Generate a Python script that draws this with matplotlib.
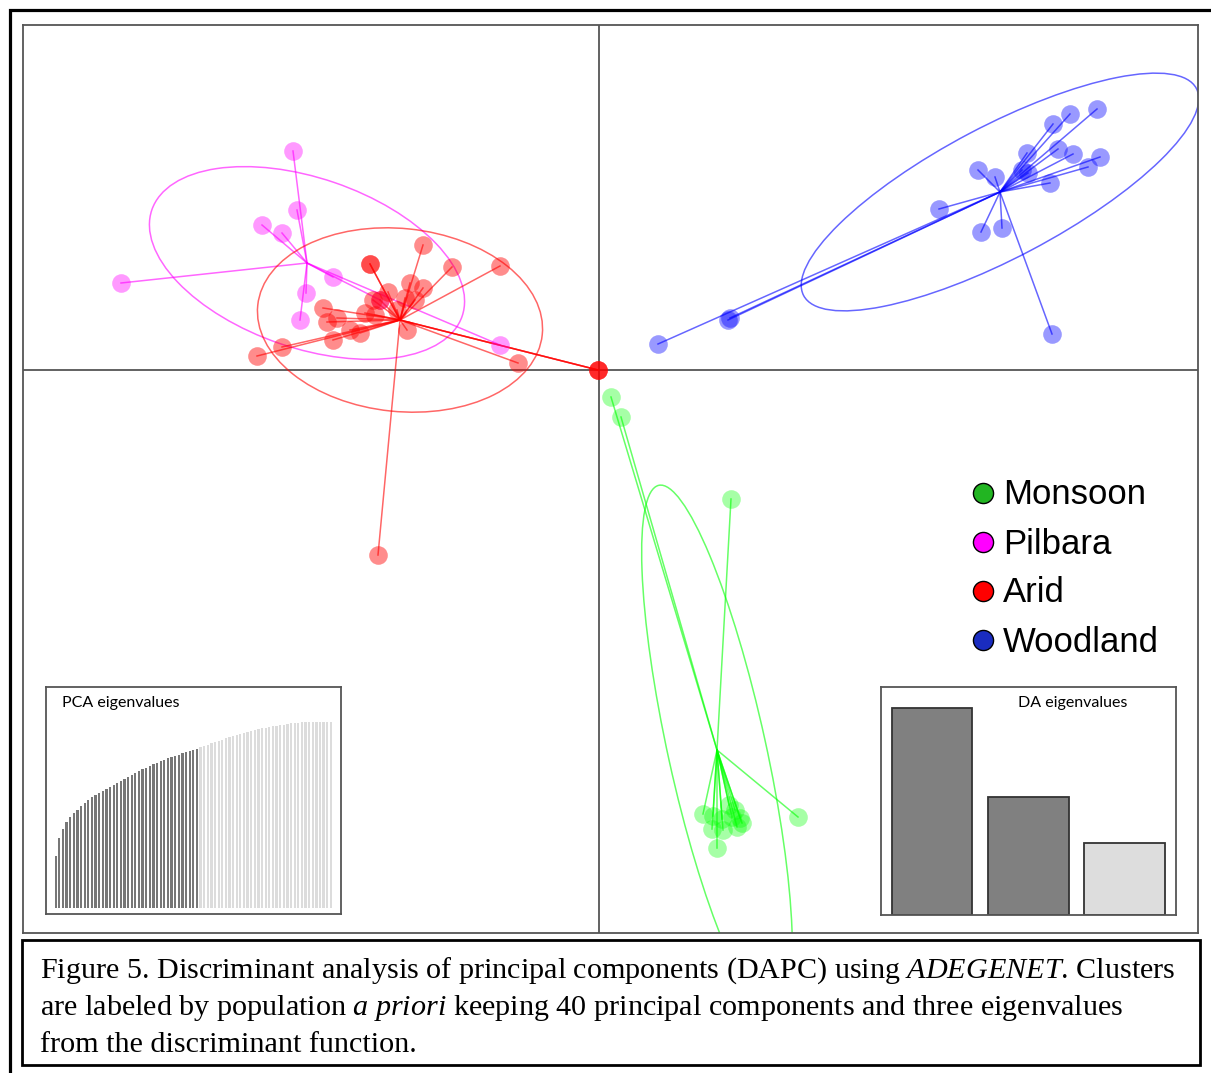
import numpy as np
import matplotlib
matplotlib.use("Agg")
import matplotlib.pyplot as plt
from matplotlib.patches import Ellipse, Rectangle

plt.rcParams["mathtext.fontset"] = "custom"
plt.rcParams["mathtext.rm"] = "Liberation Serif"
plt.rcParams["mathtext.it"] = "Liberation Serif:italic"

W, H = 1211, 1073

groups = ["Monsoon", "Pilbara", "Arid", "Woodland"]
group_colors = ["#00FF00", "#FF00FF", "#FF0000", "#0000FF"]
legend_colors = ["#22B522", "#FF00FF", "#FF0000", "#1A2CC0"]

# discriminant scores (LD1, LD2) per individual
monsoon_x = [0.12, 0.22, 1.32, 1.99, 1.04, 1.14, 1.13, 1.24, 1.18, 1.30, 1.33,
             1.38, 1.41, 1.43, 1.36, 1.23]
monsoon_y = [-0.27, -0.47, -1.29, -4.47, -4.44, -4.46, -4.59, -4.60, -4.78,
             -4.35, -4.47, -4.57, -4.48, -4.53, -4.40, -4.49]
pilbara_x = [-3.06, -3.02, -3.37, -3.17, -4.78, -2.66, -2.93, -2.99, -0.99, -2.19]
pilbara_y = [2.19, 1.60, 1.45, 1.37, 0.87, 0.93, 0.77, 0.50, 0.25, 0.70]
arid_x = [-1.76, -2.29, -2.29, -1.47, -0.99, -1.89, -1.76, -2.11, -2.19, -1.94,
          -1.84, -2.76, -2.34, -2.24, -2.02, -2.72, -2.62, -2.49, -2.39, -2.66,
          -1.92, -3.17, -3.42, -0.81, -2.26, -0.01, -0.01, -0.01, -2.21]
arid_y = [1.25, 1.06, 1.06, 1.03, 1.04, 0.87, 0.82, 0.78, 0.70, 0.72,
          0.70, 0.62, 0.57, 0.55, 0.60, 0.48, 0.52, 0.40, 0.37, 0.30,
          0.40, 0.23, 0.14, 0.07, 0.70, 0.00, 0.00, 0.00, -1.85]
woodland_x = [4.98, 4.71, 4.54, 4.59, 4.74, 5.01, 4.89, 4.51, 4.28, 4.23, 4.29,
              3.79, 3.96, 3.40, 3.82, 4.03, 4.53, 1.29, 1.31, 0.59]
woodland_y = [2.61, 2.56, 2.46, 2.21, 2.16, 2.13, 2.03, 1.87, 2.17, 2.00, 1.97,
              2.00, 1.93, 1.61, 1.38, 1.42, 0.36, 0.50, 0.52, 0.26]

centroid_x = [1.18, -2.92, -1.99, 4.01]
centroid_y = [-3.80, 1.07, 0.50, 1.78]
# inertia ellipses: width, height, angle
ellipse_w = [5.42, 3.28, 2.86, 4.44]
ellipse_h = [0.98, 1.70, 1.83, 1.32]
ellipse_angle = [102.4, -18.9, -5.9, 27.8]

# cumulative PCA variance (%) and DA eigenvalues
pca_cumvar = [28.0, 37.6, 42.5, 46.2, 48.9, 51.1, 52.7, 54.8, 56.5, 58.1,
              59.7, 60.8, 61.8, 62.9, 64.0, 65.1, 66.1, 67.2, 68.3, 69.4,
              70.4, 71.5, 72.6, 73.7, 74.7, 75.5, 76.3, 77.2, 78.0, 78.8,
              79.6, 80.4, 81.2, 81.8, 82.5, 83.1, 83.8, 84.4, 84.9, 85.5,
              86.3, 87.1, 87.8, 88.5, 89.2, 89.9, 90.5, 91.2, 91.8, 92.5,
              93.0, 93.5, 94.1, 94.6, 95.2, 95.6, 96.0, 96.5, 96.9, 97.3,
              97.6, 98.0, 98.3, 98.6, 98.9, 99.2, 99.5, 99.6, 99.8, 99.9,
              100.0, 100.0, 100.0, 100.0, 100.0, 100.0, 100.0]
n_pca_kept = 40
da_eig = [207.0, 118.0, 72.0]
n_da_kept = 2

caption_lines = [
    r"Figure 5. Discriminant analysis of principal components (DAPC) using $\mathit{ADEGENET}$. Clusters",
    r"are labeled by population $\mathit{a\ priori}$ keeping 40 principal components and three eigenvalues",
    "from the discriminant function.",
]

scores_x = [monsoon_x, pilbara_x, arid_x, woodland_x]
scores_y = [monsoon_y, pilbara_y, arid_y, woodland_y]
point_alpha = [0.35, 0.4, 0.45, 0.4]

fig = plt.figure(figsize=(W / 100, H / 100), dpi=100)


def px_axes(x0, y0, x1, y1):
    return fig.add_axes([x0 / W, 1 - y1 / H, (x1 - x0) / W, (y1 - y0) / H])


def px_fig(x, y):
    return x / W, 1 - y / H


# main scatter
ax = px_axes(23, 25, 1198, 933)
ax.set_xlim(-5.76, 5.99)
ax.set_ylim(-5.63, 3.45)
ax.set_xticks([])
ax.set_yticks([])
for sp in ax.spines.values():
    sp.set_color("#555555")
    sp.set_linewidth(1.3)
ax.axhline(0, color="#555555", lw=1.3, zorder=0)
ax.axvline(0, color="#555555", lw=1.3, zorder=0)

for i, name in enumerate(groups):
    col = group_colors[i]
    cx, cy = centroid_x[i], centroid_y[i]
    for x, y in zip(scores_x[i], scores_y[i]):
        ax.plot([cx, x], [cy, y], color=col, lw=1.1, alpha=0.6, zorder=2)
    ax.add_patch(Ellipse((cx, cy), ellipse_w[i], ellipse_h[i], angle=ellipse_angle[i],
                         fill=False, ec=col, lw=1.1, alpha=0.6, zorder=2))
    ax.scatter(scores_x[i], scores_y[i], s=180, color=col, alpha=point_alpha[i],
               lw=0, zorder=3)

# legend
for i, name in enumerate(groups):
    lx, ly = px_fig(983, 493 + i * 49)
    ax.scatter([lx], [ly], s=210, color=legend_colors[i], edgecolors="black", lw=1.0,
               transform=fig.transFigure, clip_on=False, zorder=6)
    tx, ty = px_fig(1003, 495 + i * 49)
    fig.text(tx, ty, name, fontsize=25, family="Liberation Sans", va="center", ha="left")

# PCA eigenvalues inset
pax = px_axes(46, 687, 341, 914)
n_pca = len(pca_cumvar)
pca_cols = ["#777777" if k < n_pca_kept else "#DCDCDC" for k in range(n_pca)]
pax.bar(np.arange(1, n_pca + 1), pca_cumvar, width=0.62, color=pca_cols, lw=0)
pax.set_xlim(-1.68, n_pca + 2.8)
pax.set_ylim(-3.2, 118.8)
pax.set_xticks([])
pax.set_yticks([])
for sp in pax.spines.values():
    sp.set_color("#555555")
    sp.set_linewidth(1.3)
pax.text(0.055, 0.93, "PCA eigenvalues", transform=pax.transAxes, fontsize=11.5,
         family="Lato", va="center", ha="left")

# DA eigenvalues inset
dax = px_axes(881, 687, 1176, 915)
da_cols = ["#808080" if k < n_da_kept else "#DDDDDD" for k in range(len(da_eig))]
dax.bar(np.arange(len(da_eig)), da_eig, width=0.837, color=da_cols,
        edgecolor="#333333", lw=1.3)
dax.set_xlim(-0.53, 2.534)
dax.set_ylim(0, da_eig[0] * 228 / 207.3)
dax.set_xticks([])
dax.set_yticks([])
for sp in dax.spines.values():
    sp.set_color("#555555")
    sp.set_linewidth(1.3)
dax.text(0.465, 0.93, "DA eigenvalues", transform=dax.transAxes, fontsize=11.5,
         family="Lato", va="center", ha="left")

# outer frame and caption box
x0, y0 = px_fig(9.5, 10)
fig.add_artist(Rectangle((x0, -0.05), 1.1, y0 + 0.05, transform=fig.transFigure,
                         fill=False, ec="black", lw=2.3))
bx, by = px_fig(22, 1065)
fig.add_artist(Rectangle((bx, by), 1178 / W, 125 / H, transform=fig.transFigure,
                         fill=False, ec="black", lw=2.0))
for i, line in enumerate(caption_lines):
    tx, ty = px_fig(40, 978 + i * 37)
    fig.text(tx, ty, line, fontsize=21.7, family="Liberation Serif", va="baseline", ha="left")

fig.savefig("out.png", dpi=100)
